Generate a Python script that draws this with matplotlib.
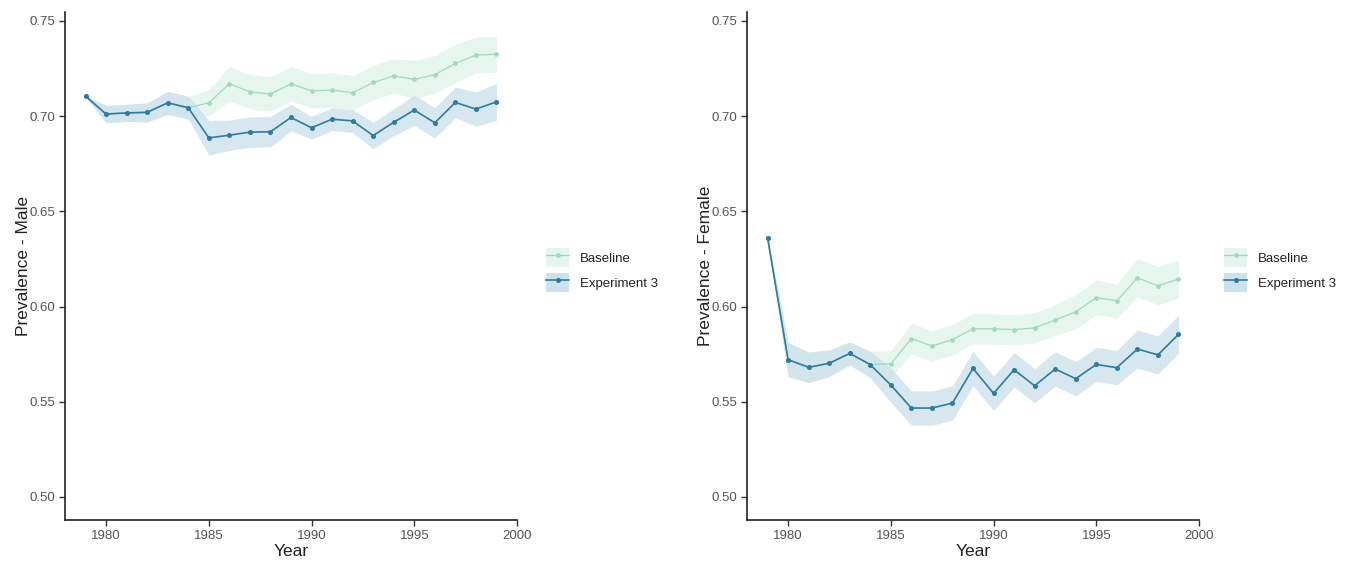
import matplotlib
matplotlib.use("Agg")
import matplotlib.pyplot as plt
import numpy as np
from matplotlib.patches import Patch
from matplotlib.lines import Line2D
from matplotlib.legend_handler import HandlerTuple

plt.rcParams['font.family'] = ['Liberation Sans', 'DejaVu Sans']

years = list(range(1979, 2000))
series_names = ["Baseline", "Experiment 3"]
y_ticks = [0.50, 0.55, 0.60, 0.65, 0.70, 0.75]
x_ticks = [1980, 1985, 1990, 1995, 2000]

# Male panel
male_baseline = [0.7105, 0.7011, 0.7017, 0.7020, 0.7070, 0.7044, 0.7070, 0.7170, 0.7128,
                 0.7116, 0.7170, 0.7133, 0.7137, 0.7123, 0.7177, 0.7211, 0.7193, 0.7218,
                 0.7277, 0.7321, 0.7325]
male_baseline_ci = [0.0005, 0.0045, 0.0045, 0.005, 0.006, 0.006, 0.007, 0.009, 0.009,
                    0.009, 0.009, 0.009, 0.009, 0.009, 0.009, 0.009, 0.010, 0.010,
                    0.010, 0.0095, 0.0095]
male_exp3 = [0.7105, 0.7011, 0.7017, 0.7020, 0.7070, 0.7044, 0.6886, 0.6900, 0.6916,
             0.6918, 0.6993, 0.6939, 0.6984, 0.6975, 0.6898, 0.6968, 0.7032, 0.6965,
             0.7072, 0.7037, 0.7075]
male_exp3_ci = [0.0005, 0.0045, 0.0045, 0.005, 0.006, 0.006, 0.009, 0.008, 0.008,
                0.008, 0.007, 0.006, 0.006, 0.006, 0.007, 0.007, 0.008, 0.008,
                0.008, 0.009, 0.0097]

# Female panel
female_baseline = [0.6362, 0.5721, 0.5681, 0.5702, 0.5754, 0.5695, 0.5699, 0.5832, 0.5793,
                   0.5826, 0.5883, 0.5883, 0.5879, 0.5888, 0.5930, 0.5972, 0.6047, 0.6030,
                   0.6151, 0.6109, 0.6144]
female_baseline_ci = [0.001, 0.009, 0.008, 0.007, 0.006, 0.007, 0.007, 0.008, 0.008,
                      0.008, 0.008, 0.008, 0.008, 0.008, 0.008, 0.009, 0.009, 0.009,
                      0.010, 0.010, 0.010]
female_exp3 = [0.6362, 0.5721, 0.5681, 0.5702, 0.5754, 0.5695, 0.5588, 0.5467, 0.5467,
               0.5493, 0.5675, 0.5544, 0.5668, 0.5584, 0.5672, 0.5621, 0.5696, 0.5679,
               0.5777, 0.5746, 0.5854]
female_exp3_ci = [0.001, 0.009, 0.008, 0.007, 0.006, 0.007, 0.009, 0.009, 0.009,
                  0.009, 0.009, 0.009, 0.009, 0.009, 0.009, 0.009, 0.009, 0.009,
                  0.010, 0.010, 0.010]

base_line_col = "#9fd9c3"
base_fill_col = "#e4f5ee"
exp_line_col = "#2c7ca3"
exp_fill_col = "#cde1ec"

W, H = 1358, 568
fig = plt.figure(figsize=(W / 100, H / 100), dpi=100)


def panel(left_px, ylabel, base, base_ci, exp, exp_ci, legend_x_px):
    ax = fig.add_axes([left_px / W, (H - 520) / H, 452 / W, 508 / H])
    yrs = np.array(years)
    b = np.array(base); bc = np.array(base_ci)
    e = np.array(exp); ec = np.array(exp_ci)
    ax.fill_between(yrs, b - bc, b + bc, color=base_fill_col, alpha=0.9, lw=0, zorder=1)
    ax.fill_between(yrs, e - ec, e + ec, color=exp_fill_col, alpha=0.8, lw=0, zorder=2)
    ax.plot(yrs, b, color=base_line_col, lw=0.9, marker='o', ms=2.4, zorder=3)
    ax.plot(yrs, e, color=exp_line_col, lw=1.2, marker='o', ms=2.6, zorder=4)
    ax.set_xlim(1978, 2000)
    ax.set_ylim(0.4879, 0.7547)
    ax.set_xticks(x_ticks)
    ax.set_yticks(y_ticks)
    ax.set_yticklabels([f"{v:.2f}" for v in y_ticks])
    for s in ['top', 'right']:
        ax.spines[s].set_visible(False)
    for s in ['left', 'bottom']:
        ax.spines[s].set_linewidth(1.2)
        ax.spines[s].set_color('#222222')
    ax.tick_params(axis='both', length=4, width=1, color='#333333',
                   labelsize=9.5, labelcolor='#555555', pad=3)
    ax.set_xlabel("Year", fontsize=12.5, color='#222222', labelpad=2)
    ax.set_ylabel(ylabel, fontsize=12.5, color='#222222', labelpad=-1)

    handles = [
        (Patch(facecolor=base_fill_col, edgecolor='none'),
         Line2D([], [], color=base_line_col, lw=0.9, marker='o', ms=2.4)),
        (Patch(facecolor=exp_fill_col, edgecolor='none'),
         Line2D([], [], color=exp_line_col, lw=1.2, marker='o', ms=2.6)),
    ]
    ax.legend(handles, series_names, handler_map={tuple: HandlerTuple(ndivide=1, pad=0)},
              loc='center left', bbox_to_anchor=(legend_x_px / W, 1 - 270 / H),
              bbox_transform=fig.transFigure, frameon=False, fontsize=9.5,
              handlelength=1.75, handleheight=1.8, labelspacing=0.5,
              handletextpad=0.8, borderpad=0, borderaxespad=0,
              labelcolor='#222222')
    return ax


panel(65, "Prevalence - Male", male_baseline, male_baseline_ci, male_exp3, male_exp3_ci, 546)
panel(747, "Prevalence - Female", female_baseline, female_baseline_ci, female_exp3, female_exp3_ci, 1224)

fig.savefig("out.png", dpi=100)
